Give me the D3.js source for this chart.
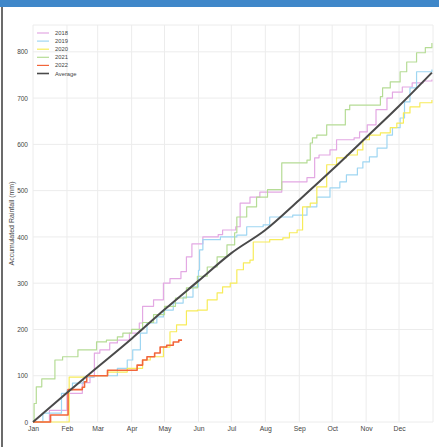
<!DOCTYPE html>
<html>
<head>
<meta charset="utf-8">
<script src="https://cdn.jsdelivr.net/npm/d3@7"></script>
<style>
  body { margin: 0; background: #fff; }
  #chart-area { width: 439px; height: 447px; position: relative; }
  text { font-family: "Liberation Sans", Arial, sans-serif; }
</style>
</head>
<body>
<div id="chart-area"></div>
<script>
// tick labels
var months = ["Jan", "Feb", "Mar", "Apr", "May", "Jun", "Jul", "Aug", "Sep", "Oct", "Nov", "Dec"];
var monthStarts = [0, 31, 59, 90, 120, 151, 181, 212, 243, 273, 304, 334];
var yTicks = [0, 100, 200, 300, 400, 500, 600, 700, 800];

// series: [day of year, accumulated mm]
var rain2018 = [[0,0],[15,25],[31,62],[45,85],[52,97],[56,149],[61,156],[70,171],[77,177],[88,192],[97,214],[100,250],[110,264],[119,300],[125,310],[135,325],[140,357],[145,385],[155,400],[169,405],[173,415],[185,422],[189,473],[198,486],[207,497],[227,519],[250,528],[257,571],[261,577],[271,588],[277,610],[293,614],[298,627],[305,642],[313,675],[323,700],[328,713],[337,724],[346,733],[356,737],[364,740]];
var rain2019 = [[0,0],[9,19],[26,62],[31,69],[36,84],[46,97],[55,100],[77,116],[86,134],[91,156],[98,192],[104,214],[113,227],[119,242],[128,257],[137,270],[146,292],[151,328],[152,372],[155,394],[171,400],[186,404],[195,422],[210,426],[216,443],[237,447],[250,465],[259,486],[271,506],[280,519],[286,534],[296,549],[301,562],[307,573],[314,592],[323,620],[328,636],[335,657],[339,692],[344,722],[350,757],[364,762]];
var rain2020 = [[0,0],[33,97],[49,100],[68,108],[86,116],[100,134],[107,141],[119,162],[125,195],[131,210],[140,240],[150,242],[159,264],[168,279],[173,292],[180,300],[186,329],[192,344],[198,350],[201,389],[216,394],[228,398],[234,409],[241,415],[246,465],[253,473],[259,508],[268,556],[277,571],[286,577],[296,588],[301,610],[307,620],[317,625],[326,636],[332,646],[338,668],[344,681],[353,690],[364,696]];
var rain2021 = [[0,0],[1,40],[3,76],[8,93],[20,134],[27,141],[41,156],[58,173],[67,177],[77,184],[82,192],[90,200],[100,215],[110,232],[120,250],[130,268],[140,290],[150,315],[159,335],[168,357],[177,383],[184,409],[186,443],[195,465],[204,486],[214,502],[227,560],[250,566],[253,603],[255,614],[259,620],[268,642],[285,675],[289,685],[317,703],[319,722],[326,735],[335,757],[341,778],[350,798],[358,809],[364,819]];
var rain2022 = [[0,0],[16,15],[32,70],[45,75],[47,87],[49,100],[68,112],[95,123],[100,134],[104,141],[111,149],[116,162],[122,166],[128,173],[133,177],[136,177]];
var rainAvg = [[0,0],[31,63],[52,105],[90,180],[120,243],[151,305],[181,365],[212,415],[243,480],[273,545],[304,615],[334,683],[364,755]];

var seriesNames = ["2018", "2019", "2020", "2021", "2022", "Average"];
var seriesData = [rain2018, rain2019, rain2020, rain2021, rain2022, rainAvg];
var seriesColors = ["#e3a8e3", "#9fd6f2", "#f7ec5a", "#b5dc95", "#f2653a", "#4a4a4a"];

var W = 439, H = 447;
var margin = { top: 25, right: 6, bottom: 25, left: 33 },
    width = W - margin.left - margin.right,
    height = H - margin.top - margin.bottom;

var svg = d3.select("#chart-area")
    .append("svg")
    .attr("width", W)
    .attr("height", H);

// header bar + left border
svg.append("rect").attr("x", 0).attr("y", 0).attr("width", W).attr("height", 7).attr("fill", "#3f87c9");
svg.append("rect").attr("x", 1).attr("y", 7).attr("width", 2).attr("height", H - 7).attr("fill", "#6b6b6b");

var g = svg.append("g")
    .attr("transform", "translate(" + margin.left + "," + margin.top + ")");

var x = d3.scaleLinear().domain([0, 365]).range([0, width]);
var y = d3.scaleLinear().domain([0, 858]).range([height, 0]);

// grid
g.append("g").selectAll("line.v")
    .data(monthStarts.concat([365]))
    .enter().append("line")
    .attr("x1", d => x(d)).attr("x2", d => x(d))
    .attr("y1", 0).attr("y2", height)
    .attr("stroke", "#ececec").attr("stroke-width", 1);

g.append("g").selectAll("line.h")
    .data(yTicks.concat([858]))
    .enter().append("line")
    .attr("x1", 0).attr("x2", width)
    .attr("y1", d => y(d)).attr("y2", d => y(d))
    .attr("stroke", "#ececec").attr("stroke-width", 1);

// axes
var xAxisCall = d3.axisBottom(x).tickValues(monthStarts)
    .tickFormat((d, i) => months[i]).tickSize(0).tickPadding(4);
var yAxisCall = d3.axisLeft(y).tickValues(yTicks).tickSize(0).tickPadding(5);

var xAxisGroup = g.append("g")
    .attr("transform", "translate(0," + height + ")")
    .call(xAxisCall);
var yAxisGroup = g.append("g").call(yAxisCall);

xAxisGroup.select(".domain").remove();
yAxisGroup.select(".domain").remove();
xAxisGroup.selectAll("text").attr("fill", "#444").style("font-size", "6.8px");
yAxisGroup.selectAll("text").attr("fill", "#444").style("font-size", "6.5px");

// Y label
g.append("text")
    .attr("x", -(height / 2))
    .attr("y", -19)
    .attr("text-anchor", "middle")
    .attr("transform", "rotate(-90)")
    .attr("fill", "#444")
    .style("font-size", "7px")
    .text("Accumulated Rainfall (mm)");

// lines
var stepLine = d3.line()
    .x(d => x(d[0]))
    .y(d => y(d[1]))
    .curve(d3.curveStepAfter);
var smoothLine = d3.line()
    .x(d => x(d[0]))
    .y(d => y(d[1]))
    .curve(d3.curveMonotoneX);

seriesData.forEach(function(data, i) {
    var isAvg = seriesNames[i] === "Average";
    g.append("path")
        .datum(data)
        .attr("fill", "none")
        .attr("stroke", seriesColors[i])
        .attr("stroke-width", isAvg ? 2 : (seriesNames[i] === "2022" ? 1.6 : 1.2))
        .attr("stroke-linejoin", "round")
        .attr("d", isAvg ? smoothLine : stepLine);
});

// legend
var legend = g.append("g").attr("transform", "translate(4,8)");
var rows = legend.selectAll("g")
    .data(seriesNames)
    .enter().append("g")
    .attr("transform", (d, i) => "translate(0," + (i * 8.1) + ")");
rows.append("line")
    .attr("x1", 0).attr("x2", 12)
    .attr("stroke", (d, i) => seriesColors[i])
    .attr("stroke-width", (d, i) => i === 5 ? 1.6 : 1.2);
rows.append("text")
    .attr("x", 18).attr("y", 2)
    .attr("fill", "#444")
    .style("font-size", "5.8px")
    .text(d => d);
</script>
</body>
</html>
